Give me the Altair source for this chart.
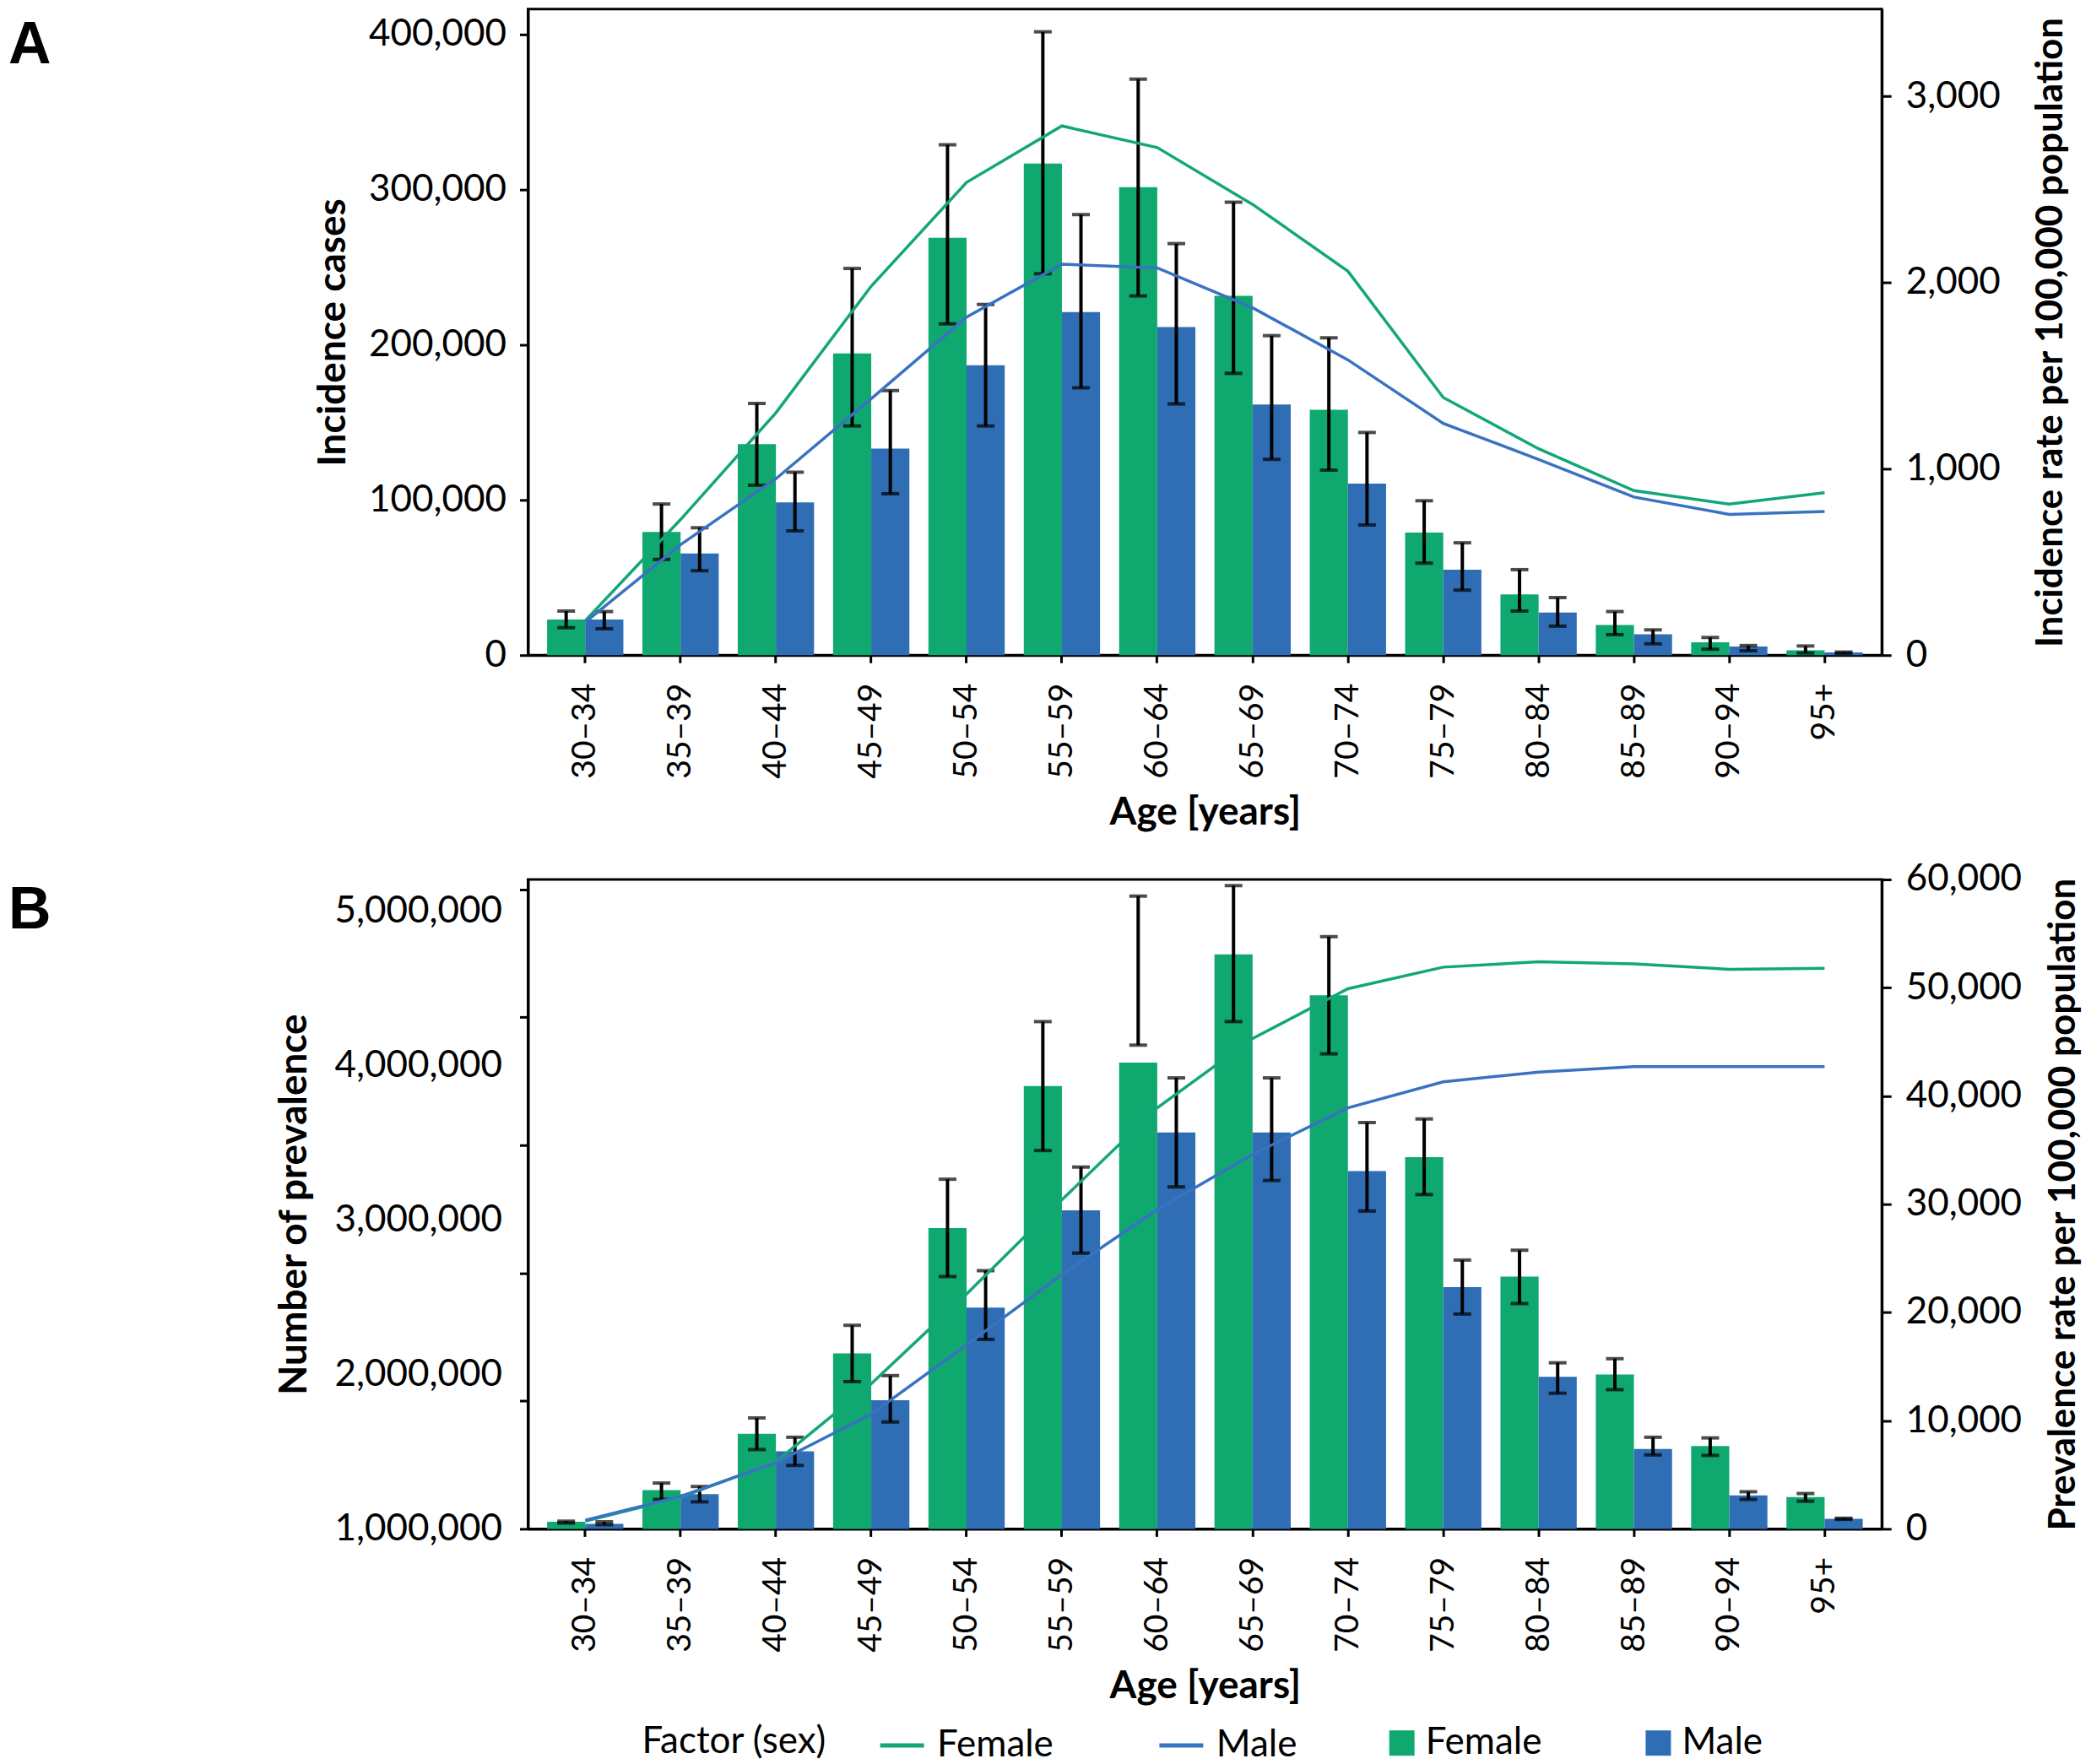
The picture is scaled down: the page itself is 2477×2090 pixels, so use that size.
import altair as alt
import pandas as pd

ages = ["30–34", "35–39", "40–44", "45–49", "50–54", "55–59", "60–64",
        "65–69", "70–74", "75–79", "80–84", "85–89", "90–94", "95+"]
sexes = ["Female", "Male"]

# Panel A: incidence cases (bars, with uncertainty) and incidence rate (lines)
inc_f = [22900, 79400, 135900, 194500, 269000, 316800, 301600, 231500, 158100, 79000, 39200, 19400, 8300, 3100]
inc_f_lo = [17700, 61700, 109500, 147700, 213500, 245800, 231500, 181600, 119200, 59300, 28400, 13200, 3800, 1400]
inc_f_hi = [28400, 97400, 162200, 249200, 328900, 401700, 371200, 291900, 204500, 99500, 55100, 28100, 11400, 5900]
inc_m = [22900, 65500, 98400, 133100, 186800, 221100, 211400, 161500, 110600, 55100, 27400, 13500, 5500, 1700]
inc_m_lo = [17000, 54400, 80100, 104000, 147700, 172300, 161900, 126200, 83900, 41900, 18700, 7300, 2800, 1200]
inc_m_hi = [28100, 82100, 117900, 170500, 226000, 283900, 265200, 205900, 143500, 72400, 37100, 16300, 6200, 2000]
inc_rate_f = [185, 728, 1301, 1981, 2538, 2841, 2725, 2420, 2061, 1383, 1108, 883, 811, 872]
inc_rate_m = [177, 593, 947, 1377, 1815, 2099, 2079, 1865, 1585, 1244, 1051, 849, 756, 771]

# Panel B: number of prevalent cases (bars) and prevalence rate (lines)
prev_f = [56000, 303000, 743000, 1371000, 2352000, 3461000, 3645000, 4491000, 4171000, 2906000, 1972000, 1206000, 647000, 248000]
prev_f_lo = [45000, 230000, 620000, 1151000, 1972000, 2957000, 3781000, 3965000, 3713000, 2613000, 1761000, 1088000, 574000, 216000]
prev_f_hi = [60000, 358000, 867000, 1591000, 2733000, 3965000, 4946000, 5028000, 4629000, 3204000, 2178000, 1330000, 711000, 276000]
prev_m = [38000, 271000, 606000, 1005000, 1729000, 2489000, 3098000, 3098000, 2796000, 1890000, 1188000, 624000, 262000, 79000]
prev_m_lo = [33000, 211000, 496000, 835000, 1481000, 2155000, 2673000, 2723000, 2484000, 1679000, 1060000, 578000, 230000, 74000]
prev_m_hi = [55000, 331000, 716000, 1198000, 2018000, 2828000, 3525000, 3525000, 3176000, 2101000, 1298000, 716000, 290000, 83000]
prev_rate_f = [700, 2900, 6200, 13400, 21700, 30400, 38900, 45300, 49900, 51900, 52400, 52200, 51700, 51800]
prev_rate_m = [800, 3000, 6100, 10600, 17000, 23500, 29500, 34600, 38900, 41300, 42200, 42700, 42700, 42700]

# tick labels
inc_ticks = [0, 100000, 200000, 300000, 400000]
inc_rate_ticks = [0, 1000, 2000, 3000]
prev_tick_marks = [0, 1000000, 2000000, 3000000, 4000000, 5000000]
prev_tick_labels = [1000000, 2000000, 3000000, 4000000, 5000000]
prev_rate_ticks = [0, 10000, 20000, 30000, 40000, 50000, 60000]

BAR_COLORS = ["#0FA86F", "#2F6DB5"]
LINE_COLORS = ["#14A67B", "#3A72C2"]
FONT = "Lato"
NUM = ",.0f"


def counts_df(f, f_lo, f_hi, m, m_lo, m_hi):
    rows = []
    for i, a in enumerate(ages):
        rows.append({"age": a, "sex": "Female", "val": f[i], "lo": f_lo[i], "hi": f_hi[i]})
        rows.append({"age": a, "sex": "Male", "val": m[i], "lo": m_lo[i], "hi": m_hi[i]})
    return pd.DataFrame(rows)


def rate_df(f, m):
    rows = []
    for i, a in enumerate(ages):
        rows.append({"age": a, "sexl": "Female", "rate": f[i]})
        rows.append({"age": a, "sexl": "Male", "rate": m[i]})
    return pd.DataFrame(rows)


x_enc = alt.X("age:N", sort=ages,
              scale=alt.Scale(paddingInner=0.2, paddingOuter=0.2),
              axis=alt.Axis(title="Age [years]", labelAngle=-90, labelPadding=24,
                            tickSize=9, titlePadding=18, labelFontSize=39))
xoff_enc = alt.XOffset("sex:N", sort=sexes, scale=alt.Scale(paddingInner=0, paddingOuter=0))

fill_enc = alt.Fill("sex:N", sort=sexes, scale=alt.Scale(range=BAR_COLORS),
                    legend=alt.Legend(title=None, orient="none", legendX=1014, legendY=2034,
                                      direction="horizontal", symbolType="square",
                                      symbolSize=900, symbolStrokeWidth=0, labelOffset=6,
                                      columnPadding=116, labelFontSize=44, labelLimit=500))
color_enc = alt.Color("sexl:N", sort=sexes, scale=alt.Scale(range=LINE_COLORS),
                      legend=alt.Legend(title="Factor (sex)", orient="none", legendX=135,
                                        legendY=2030, direction="horizontal",
                                        titleOrient="left", symbolType="stroke",
                                        symbolSize=2700, symbolStrokeWidth=5,
                                        labelOffset=13, columnPadding=115, titlePadding=60,
                                        labelFontSize=44, titleFontSize=44,
                                        titleFontWeight="normal", titleLimit=600,
                                        labelLimit=500))


def count_layers(df, yscale, yaxis):
    base = alt.Chart(df)
    bars = base.mark_bar().encode(
        x=x_enc, xOffset=xoff_enc,
        y=alt.Y("val:Q", scale=yscale, axis=yaxis, title=None),
        fill=fill_enc)
    rule = base.mark_rule(color="black", strokeWidth=4).encode(
        x=x_enc, xOffset=xoff_enc,
        y=alt.Y("lo:Q", scale=yscale, axis=yaxis, title=None), y2="hi:Q")
    cap_hi = base.mark_tick(color="black", thickness=4, size=21).encode(
        x=x_enc, xOffset=xoff_enc,
        y=alt.Y("hi:Q", scale=yscale, axis=yaxis, title=None))
    cap_lo = base.mark_tick(color="black", thickness=4, size=21).encode(
        x=x_enc, xOffset=xoff_enc,
        y=alt.Y("lo:Q", scale=yscale, axis=yaxis, title=None))
    return alt.layer(bars, rule, cap_hi, cap_lo)


def rate_layer(df, yscale, yaxis):
    return alt.Chart(df).mark_line(strokeWidth=3.5).encode(
        x=x_enc,
        y=alt.Y("rate:Q", scale=yscale, axis=yaxis),
        color=color_enc)


def panel_letter(letter, y):
    return alt.Chart(pd.DataFrame({"t": [letter]})).mark_text(
        font="Liberation Sans", fontSize=70, fontWeight="bold", align="left",
        baseline="alphabetic", color="black").encode(
        x=alt.value(-616), y=alt.value(y), text="t:N")


# ---------- Panel A ----------
dfA = counts_df(inc_f, inc_f_lo, inc_f_hi, inc_m, inc_m_lo, inc_m_hi)
rA = rate_df(inc_rate_f, inc_rate_m)
axA_left = alt.Axis(orient="left", values=inc_ticks, format=NUM, title="Incidence cases",
                    tickSize=10, labelPadding=16, titlePadding=18)
barsA = count_layers(dfA, alt.Scale(domain=[0, 416300], nice=False, zero=True), axA_left)
axA_right = alt.Axis(orient="right", values=inc_rate_ticks, format=NUM,
                     title="Incidence rate per 100,000 population", titleAngle=270,
                     titleBaseline="top", tickSize=11, labelPadding=17, titlePadding=38,
                     titleFontSize=44)
lineA = rate_layer(rA, alt.Scale(domain=[0, 3468], nice=False), axA_right)
panelA = alt.layer(barsA, lineA, panel_letter("A", 64)).resolve_scale(y="independent").properties(
    width=1605, height=766)

# ---------- Panel B ----------
dfB = counts_df(prev_f, prev_f_lo, prev_f_hi, prev_m, prev_m_lo, prev_m_hi)
rB = rate_df(prev_rate_f, prev_rate_m)
axB_marks = alt.Axis(orient="left", values=prev_tick_marks, labels=False, title=None,
                     tickSize=10)
barsB = count_layers(dfB, alt.Scale(domain=[0, 5076000], nice=False, zero=True), axB_marks)
labB = alt.Chart(pd.DataFrame({"v": prev_tick_labels})).mark_point(opacity=0).encode(
    y=alt.Y("v:Q", scale=alt.Scale(domain=[1000000, 5206500], nice=False, zero=False),
            axis=alt.Axis(orient="left", values=prev_tick_labels, format=NUM,
                          title="Number of prevalence", ticks=False, domain=False,
                          labelPadding=31, titlePadding=53)))
axB_right = alt.Axis(orient="right", values=prev_rate_ticks, format=NUM,
                     title="Prevalence rate per 100,000 population", titleAngle=270,
                     titleBaseline="top", tickSize=11, labelPadding=17, titlePadding=28,
                     titleFontSize=44)
lineB = rate_layer(rB, alt.Scale(domain=[0, 60000], nice=False), axB_right)
panelB = alt.layer(barsB, lineB, labB, panel_letter("B", 58)).resolve_scale(
    y="independent").properties(width=1605, height=770)

chart = alt.vconcat(panelA, panelB, spacing=266, bounds="flush").properties(
    padding=0
).configure_view(
    stroke="black", strokeWidth=3
).configure_axis(
    labelFont=FONT, titleFont=FONT, labelFontSize=44, titleFontSize=46,
    titleFontWeight="bold", labelColor="black", titleColor="black",
    domainColor="black", tickColor="black", domainWidth=3, tickWidth=3, grid=False,
    labelFontWeight="normal", labelLimit=600, titleLimit=1200
).configure_legend(
    labelFont=FONT, titleFont=FONT, labelColor="black", titleColor="black"
)

chart.save("out.html", embed_options={"renderer": "svg", "actions": False})
